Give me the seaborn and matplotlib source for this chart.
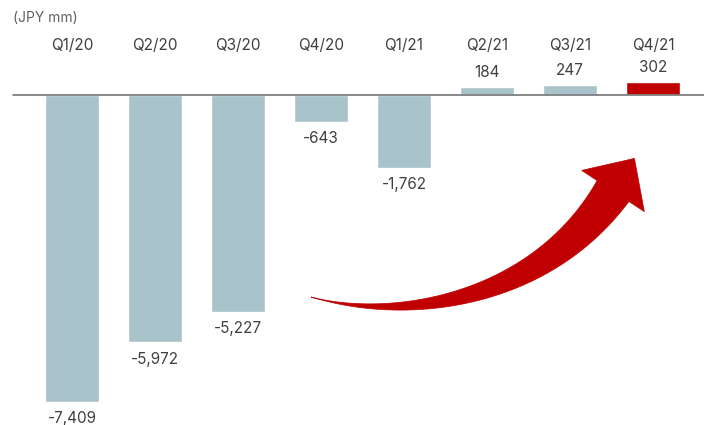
import numpy as np
import pandas as pd
import matplotlib
matplotlib.use("Agg")
import matplotlib.pyplot as plt
import matplotlib.transforms as mtransforms
from matplotlib.patches import Polygon
import seaborn as sns

categories = ["Q1/20", "Q2/20", "Q3/20", "Q4/20", "Q1/21", "Q2/21", "Q3/21", "Q4/21"]
values = [-7409, -5972, -5227, -643, -1762, 184, 247, 302]
value_labels = ["-7,409", "-5,972", "-5,227", "-643", "-1,762", "184", "247", "302"]
unit_label = "(JPY mm)"

GRAY_BAR = "#A9C3CA"
RED = "#C00000"
TEXT = "#404040"

sns.set_theme(style="white")
plt.rcParams["font.family"] = ["Inter", "DejaVu Sans"]

W, H = 704, 425
fig = plt.figure(figsize=(W / 100, H / 100), dpi=100)
ax = fig.add_axes([0, 0, 1, 1])

df = pd.DataFrame({"cat": categories, "val": values})
colors = [GRAY_BAR] * (len(categories) - 1) + [RED]
sns.barplot(data=df, x="cat", y="val", hue="cat", palette=colors, legend=False,
            width=0.64, ax=ax, saturation=1)

px_per_cat = 83.0
x0_px = 72.0
ax.set_xlim(-x0_px / px_per_cat, (W - x0_px) / px_per_cat)
scale = 307.0 / 7409.0
base_px = 95.0
ax.set_ylim(-(H - base_px) / scale, base_px / scale)

for s in ax.spines.values():
    s.set_visible(False)
ax.set_xticks([])
ax.set_yticks([])
ax.set_xlabel("")
ax.set_ylabel("")

ax.axhline(0, xmin=13 / W, xmax=1, color="#7f7f7f", lw=1.3, zorder=3)

trans = mtransforms.blended_transform_factory(ax.transData, ax.transAxes)
for i, c in enumerate(categories):
    ax.text(i, 1 - 45 / H, c, transform=trans, ha="center", va="center",
            fontsize=11, color=TEXT)

for i, (v, lab) in enumerate(zip(values, value_labels)):
    if v < 0:
        ax.annotate(lab, (i, v), xytext=(0, -12), textcoords="offset points",
                    ha="center", va="center", fontsize=11, color=TEXT)
    else:
        ax.annotate(lab, (i, v), xytext=(0, 10.5), textcoords="offset points",
                    ha="center", va="center", fontsize=11, color=TEXT)

fig.text(13 / W, 1 - 18 / H, unit_label, ha="left", va="center", fontsize=10,
         color="#606060")

pix = mtransforms.Affine2D().scale(1 / W, -1 / H).translate(0, 1) + fig.transFigure
P0 = np.array([311.0, 297.0])
P1 = np.array([400.0, 322.0])
P2 = np.array([540.0, 302.0])
P3 = np.array([613.0, 191.0])
t = np.linspace(0, 1, 200)[:, None]
pts = ((1 - t) ** 3) * P0 + 3 * ((1 - t) ** 2) * t * P1 + 3 * (1 - t) * t ** 2 * P2 + t ** 3 * P3
der = 3 * ((1 - t) ** 2) * (P1 - P0) + 6 * (1 - t) * t * (P2 - P1) + 3 * t ** 2 * (P3 - P2)
d = der / np.linalg.norm(der, axis=1, keepdims=True)
n = np.column_stack([d[:, 1], -d[:, 0]])
w = 38.0 * t[:, 0] ** 1.3
left = pts + n * (w[:, None] / 2)
right = pts - n * (w[:, None] / 2)
body = np.vstack([left, right[::-1]])
fig.patches.append(Polygon(body, closed=True, transform=pix, facecolor=RED,
                           edgecolor=RED, lw=0.5, zorder=5))
E = pts[-1]
de = d[-1]
ne = n[-1]
head = np.array([E + ne * 37.5, E + de * 39.0, E - ne * 37.5])
fig.patches.append(Polygon(head, closed=True, transform=pix, facecolor=RED,
                           edgecolor=RED, lw=0.5, zorder=5))

fig.savefig("out.png", dpi=100)
